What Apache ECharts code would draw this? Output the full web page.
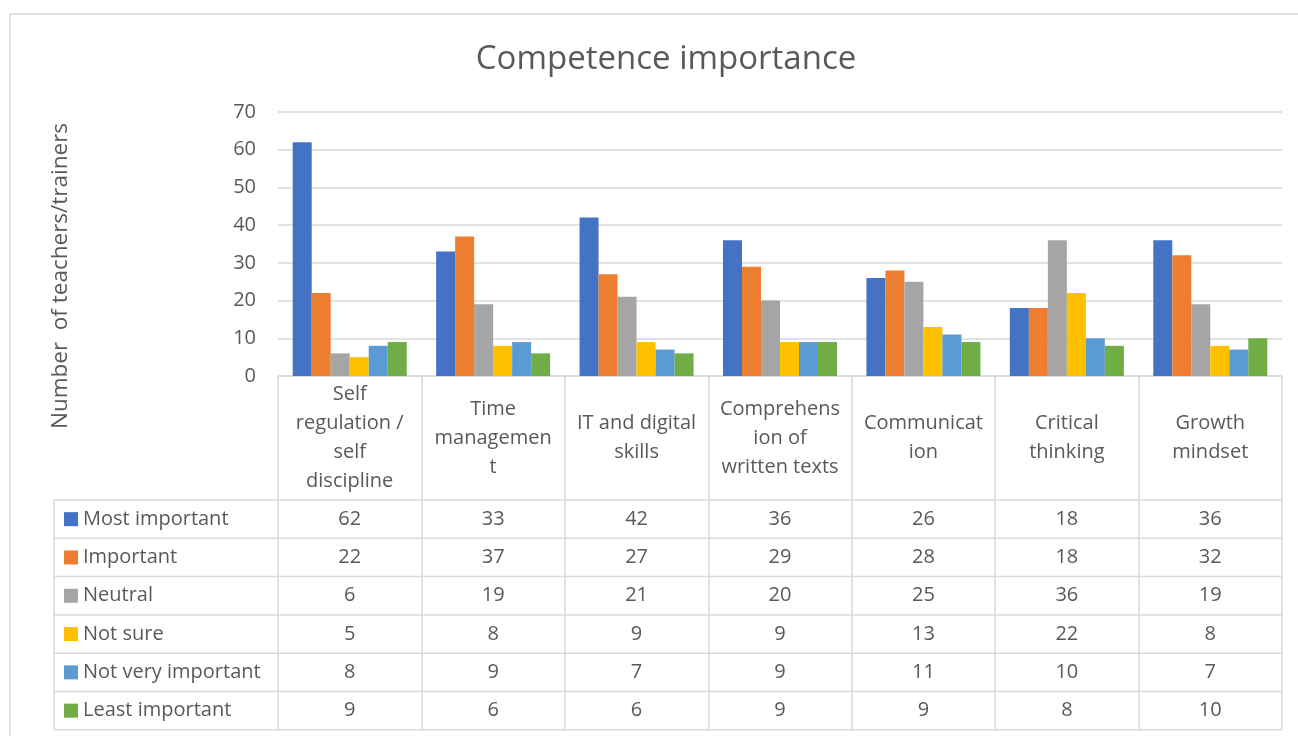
<!DOCTYPE html>
<html>
<head>
<meta charset="utf-8">
<script src="https://cdn.jsdelivr.net/npm/echarts@6/dist/echarts.min.js"></script>
<style>
  html, body { margin: 0; padding: 0; background: #fff; }
  #chart { width: 1298px; height: 736px; }
</style>
</head>
<body>
<div id="chart"></div>
<script>
// 类别和数据
const categories = [
  'Self\nregulation /\nself\ndiscipline',
  'Time\nmanagemen\nt',
  'IT and digital\nskills',
  'Comprehens\nion of\nwritten texts',
  'Communicat\nion',
  'Critical\nthinking',
  'Growth\nmindset'
]
const seriesNames = ['Most important', 'Important', 'Neutral', 'Not sure', 'Not very important', 'Least important']
const mostImportant = [62, 33, 42, 36, 26, 18, 36]
const important = [22, 37, 27, 29, 28, 18, 32]
const neutral = [6, 19, 21, 20, 25, 36, 19]
const notSure = [5, 8, 9, 9, 13, 22, 8]
const notVeryImportant = [8, 9, 7, 9, 11, 10, 7]
const leastImportant = [9, 6, 6, 9, 9, 8, 10]
const yTicks = [0, 10, 20, 30, 40, 50, 60, 70]

const allValues = [mostImportant, important, neutral, notSure, notVeryImportant, leastImportant]
const colors = ['#4472C4', '#ED7D31', '#A5A5A5', '#FFC000', '#5B9BD5', '#70AD47']

const FONT = 'Open Sans'
const TXT = '#595959'
const LINE = '#D9D9D9'
const FS = 20
const gridLeft = 278, gridRight = 1282, gridTop = 112, gridBottom = 376
const tableTop = 500, rowH = 38.3, tableLeft = 54

const chart = echarts.init(document.getElementById('chart'))

const option = {
  animation: false,
  backgroundColor: '#fff',
  textStyle: { fontFamily: FONT },
  title: {
    text: 'Competence importance',
    left: 661,
    textAlign: 'center',
    top: 38,
    textStyle: { fontFamily: FONT, fontSize: 33, fontWeight: 'normal', color: TXT }
  },
  grid: { left: gridLeft, right: 1298 - gridRight, top: gridTop, bottom: 736 - gridBottom },
  xAxis: {
    type: 'category',
    data: categories,
    axisLine: { lineStyle: { color: LINE, width: 1.5 } },
    axisTick: { show: true, length: 730 - gridBottom, lineStyle: { color: LINE, width: 1.5 } },
    axisLabel: {
      interval: 0, margin: 62, verticalAlign: 'middle',
      fontFamily: FONT, fontSize: FS, lineHeight: 29, color: TXT
    }
  },
  yAxis: {
    type: 'value',
    min: yTicks[0],
    max: yTicks[yTicks.length - 1],
    interval: 10,
    axisLine: { show: false },
    axisTick: { show: false },
    axisLabel: { fontFamily: FONT, fontSize: FS, color: TXT, margin: 22 },
    splitLine: { lineStyle: { color: LINE, width: 1.5 } }
  },
  series: allValues.map((vals, i) => ({
    name: seriesNames[i],
    type: 'bar',
    data: vals,
    barGap: '0%',
    barCategoryGap: '20.5%',
    itemStyle: { color: colors[i] }
  }))
}
chart.setOption(option)

// 数据表格
function buildTable () {
  const els = []
  els.push({ type: 'rect', shape: { x: 10, y: 14, width: 1300, height: 740 },
    style: { fill: 'none', stroke: LINE, lineWidth: 1.5 }, z: -1 })
  const tableBottom = tableTop + rowH * seriesNames.length
  for (let r = 0; r <= seriesNames.length; r++) {
    const y = tableTop + r * rowH
    els.push({ type: 'line', shape: { x1: tableLeft, y1: y, x2: gridRight, y2: y },
      style: { stroke: LINE, lineWidth: 1.5 } })
  }
  els.push({ type: 'line', shape: { x1: tableLeft, y1: tableTop, x2: tableLeft, y2: tableBottom },
    style: { stroke: LINE, lineWidth: 1.5 } })
  seriesNames.forEach((name, i) => {
    const cy = tableTop + (i + 0.5) * rowH
    els.push({ type: 'rect', shape: { x: 64, y: cy - 7, width: 14, height: 14 },
      style: { fill: colors[i] } })
    els.push({ type: 'text', x: 83, y: cy,
      style: { text: name, fontFamily: FONT, fontSize: FS, fill: TXT, verticalAlign: 'middle', align: 'left' } })
    allValues[i].forEach((v, j) => {
      const cx = chart.convertToPixel({ xAxisIndex: 0 }, categories[j])
      els.push({ type: 'text', x: cx, y: cy,
        style: { text: String(v), fontFamily: FONT, fontSize: FS, fill: TXT, verticalAlign: 'middle', align: 'center' } })
    })
  })
  // y轴名称
  els.push({ type: 'text', x: 61, y: 276, rotation: Math.PI / 2,
    style: { text: 'Number  of teachers/trainers', fontFamily: FONT, fontSize: 22.5, fill: TXT, verticalAlign: 'middle', align: 'center' } })
  return els
}
chart.setOption({ graphic: { elements: buildTable() } })
</script>
</body>
</html>
